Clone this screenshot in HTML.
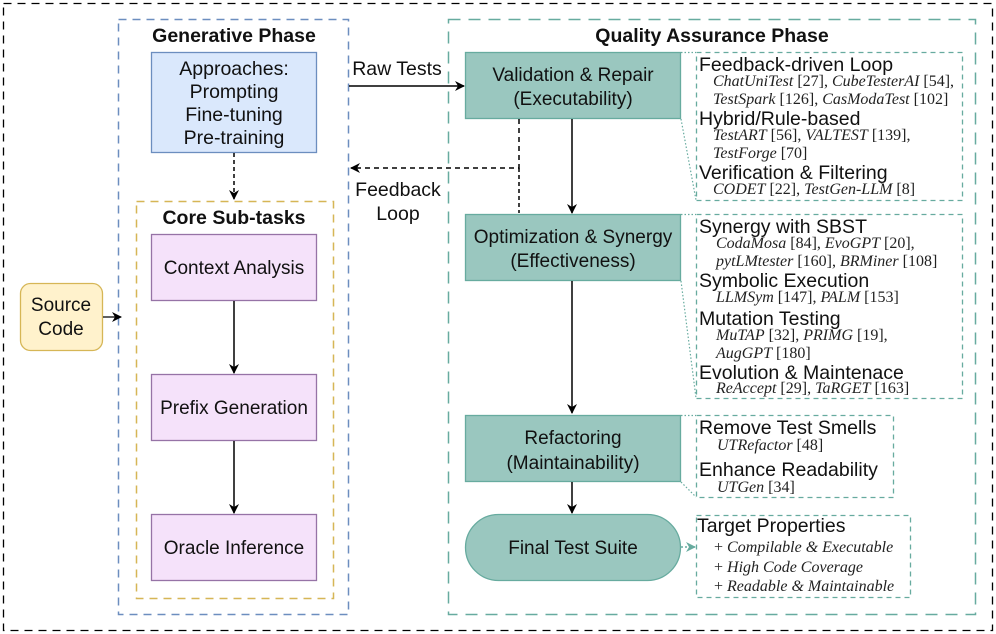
<!DOCTYPE html>
<html><head><meta charset="utf-8"><style>
html,body{margin:0;padding:0;background:#fff}
svg{display:block}
.s{font-family:"Liberation Sans",sans-serif;fill:#111}
.c{font-family:"Liberation Serif",serif;font-size:16px;fill:#222}
.i{font-style:italic}
</style></head><body>
<svg width="996" height="634" viewBox="0 0 996 634" xmlns="http://www.w3.org/2000/svg">
<defs>
<marker id="a" markerWidth="10" markerHeight="10" refX="9" refY="5" orient="auto" markerUnits="userSpaceOnUse"><path d="M0,0 L10,5 L0,10 L3,5 z" fill="#000"/></marker>
<marker id="t" markerWidth="10" markerHeight="10" refX="9" refY="5" orient="auto" markerUnits="userSpaceOnUse"><path d="M0,0 L10,5 L0,10 L3,5 z" fill="#67ab9f"/></marker>
</defs>
<rect x="3.5" y="3.5" width="989" height="627" fill="none" stroke="#000" stroke-width="1.3" stroke-dasharray="8,6"/>
<rect x="118.5" y="19.5" width="230" height="595" fill="none" stroke="#6c8ebf" stroke-width="1.5" stroke-dasharray="8,6"/>
<text x="234" y="42" text-anchor="middle" class="s" font-size="19.5" font-weight="bold">Generative Phase</text>
<rect x="151.5" y="52.5" width="165" height="100" fill="#dae8fc" stroke="#6c8ebf" stroke-width="1.3"/>
<text text-anchor="middle" class="s" font-size="19.5"><tspan x="234" y="75">Approaches:</tspan><tspan x="234" y="98">Prompting</tspan><tspan x="234" y="121">Fine-tuning</tspan><tspan x="234" y="144">Pre-training</tspan></text>
<line x1="234" y1="153" x2="234" y2="199" stroke="#000" stroke-width="1.5" stroke-dasharray="4,3" marker-end="url(#a)"/>
<rect x="136.5" y="201.5" width="197" height="397" fill="none" stroke="#d6b656" stroke-width="1.5" stroke-dasharray="8,6"/>
<text x="234" y="224" text-anchor="middle" class="s" font-size="19.5" font-weight="bold">Core Sub-tasks</text>
<rect x="151.5" y="234.5" width="165" height="66" fill="#f5e2fa" stroke="#9673a6" stroke-width="1.3"/>
<text x="234" y="274" text-anchor="middle" class="s" font-size="19">Context Analysis</text>
<rect x="151.5" y="374.5" width="165" height="66" fill="#f5e2fa" stroke="#9673a6" stroke-width="1.3"/>
<text x="234" y="414" text-anchor="middle" class="s" font-size="19">Prefix Generation</text>
<rect x="151.5" y="514.5" width="165" height="66" fill="#f5e2fa" stroke="#9673a6" stroke-width="1.3"/>
<text x="234" y="554" text-anchor="middle" class="s" font-size="19">Oracle Inference</text>
<line x1="234" y1="301" x2="234" y2="373" stroke="#000" stroke-width="1.5" marker-end="url(#a)"/>
<line x1="234" y1="441" x2="234" y2="513" stroke="#000" stroke-width="1.5" marker-end="url(#a)"/>
<rect x="20.5" y="283.5" width="82" height="67" rx="10" fill="#fff2cc" stroke="#d6b656" stroke-width="1.3"/>
<text text-anchor="middle" class="s" font-size="19"><tspan x="61" y="311">Source</tspan><tspan x="61" y="335">Code</tspan></text>
<line x1="103" y1="317" x2="121" y2="317" stroke="#000" stroke-width="1.3" marker-end="url(#a)"/>
<rect x="448.5" y="19.5" width="527" height="595" fill="none" stroke="#67ab9f" stroke-width="1.5" stroke-dasharray="12,8"/>
<text x="712" y="42" text-anchor="middle" class="s" font-size="19.5" font-weight="bold">Quality Assurance Phase</text>
<text x="397" y="75" text-anchor="middle" class="s" font-size="19.5">Raw Tests</text>
<line x1="349" y1="86" x2="464" y2="86" stroke="#000" stroke-width="1.5" marker-end="url(#a)"/>
<rect x="465.5" y="52.5" width="215" height="66" fill="#9ac7bf" stroke="#67ab9f" stroke-width="1.3"/>
<text text-anchor="middle" class="s" font-size="19"><tspan x="573" y="81">Validation &amp; Repair</tspan><tspan x="573" y="105">(Executability)</tspan></text>
<polyline points="519,119 519,168 351,168" fill="none" stroke="#000" stroke-width="1.5" stroke-dasharray="5,4" marker-end="url(#a)"/>
<line x1="519" y1="168" x2="519" y2="213" stroke="#000" stroke-width="1.5" stroke-dasharray="4,3"/>
<text text-anchor="middle" class="s" font-size="19.5"><tspan x="398" y="196">Feedback</tspan><tspan x="398" y="220">Loop</tspan></text>
<line x1="572" y1="119" x2="572" y2="213" stroke="#000" stroke-width="1.5" marker-end="url(#a)"/>
<rect x="465.5" y="214.5" width="215" height="66" fill="#9ac7bf" stroke="#67ab9f" stroke-width="1.3"/>
<text text-anchor="middle" class="s" font-size="19"><tspan x="573" y="243">Optimization &amp; Synergy</tspan><tspan x="573" y="267">(Effectiveness)</tspan></text>
<line x1="572" y1="281" x2="572" y2="413" stroke="#000" stroke-width="1.5" marker-end="url(#a)"/>
<rect x="465.5" y="415.5" width="215" height="66" fill="#9ac7bf" stroke="#67ab9f" stroke-width="1.3"/>
<text text-anchor="middle" class="s" font-size="19"><tspan x="573" y="444">Refactoring</tspan><tspan x="573" y="469">(Maintainability)</tspan></text>
<line x1="572" y1="482" x2="572" y2="513" stroke="#000" stroke-width="1.5" marker-end="url(#a)"/>
<rect x="465.5" y="514.5" width="215" height="66" rx="33" fill="#9ac7bf" stroke="#67ab9f" stroke-width="1.3"/>
<text x="573" y="554" text-anchor="middle" class="s" font-size="19">Final Test Suite</text>
<line x1="681" y1="547" x2="695" y2="547" stroke="#67ab9f" stroke-width="1.5" stroke-dasharray="2,2" marker-end="url(#t)"/>
<g stroke="#67ab9f" stroke-width="1.2" stroke-dasharray="1.5,2" fill="none">
<line x1="681" y1="52.5" x2="696" y2="52.5"/><line x1="681" y1="119" x2="696" y2="200"/>
<line x1="681" y1="214.5" x2="696" y2="214.5"/><line x1="681" y1="281" x2="696" y2="398"/>
<line x1="681" y1="415.5" x2="696" y2="415.5"/><line x1="681" y1="482" x2="696" y2="497"/>
</g>
<g fill="none" stroke="#67ab9f" stroke-width="1.3" stroke-dasharray="5,4">
<rect x="696.5" y="52.5" width="266" height="148"/>
<rect x="696.5" y="214.5" width="266" height="184"/>
<rect x="696.5" y="415.5" width="197" height="82"/>
<rect x="696.5" y="515.5" width="214" height="82"/>
</g>
<g class="s" font-size="19.5">
<text x="699" y="71">Feedback-driven Loop</text>
<text x="699" y="125">Hybrid/Rule-based</text>
<text x="699" y="179">Verification &amp; Filtering</text>
<text x="699" y="233">Synergy with SBST</text>
<text x="699" y="287">Symbolic Execution</text>
<text x="699" y="325">Mutation Testing</text>
<text x="699" y="379">Evolution &amp; Maintenace</text>
<text x="699" y="434">Remove Test Smells</text>
<text x="699" y="476">Enhance Readability</text>
<text x="697" y="532">Target Properties</text>
</g>
<g class="c">
<text x="713" y="86"><tspan class="i">ChatUniTest</tspan> [27], <tspan class="i">CubeTesterAI</tspan> [54],</text>
<text x="713" y="104"><tspan class="i">TestSpark</tspan> [126], <tspan class="i">CasModaTest</tspan> [102]</text>
<text x="713" y="140"><tspan class="i">TestART</tspan> [56], <tspan class="i">VALTEST</tspan> [139],</text>
<text x="713" y="158"><tspan class="i">TestForge</tspan> [70]</text>
<text x="713" y="194"><tspan class="i">CODET</tspan> [22], <tspan class="i">TestGen-LLM</tspan> [8]</text>
<text x="716" y="248"><tspan class="i">CodaMosa</tspan> [84], <tspan class="i">EvoGPT</tspan> [20],</text>
<text x="716" y="266"><tspan class="i">pytLMtester</tspan> [160], <tspan class="i">BRMiner</tspan> [108]</text>
<text x="716" y="302"><tspan class="i">LLMSym</tspan> [147], <tspan class="i">PALM</tspan> [153]</text>
<text x="716" y="340"><tspan class="i">MuTAP</tspan> [32], <tspan class="i">PRIMG</tspan> [19],</text>
<text x="716" y="358"><tspan class="i">AugGPT</tspan> [180]</text>
<text x="716" y="393"><tspan class="i">ReAccept</tspan> [29], <tspan class="i">TaRGET</tspan> [163]</text>
<text x="717" y="450"><tspan class="i">UTRefactor</tspan> [48]</text>
<text x="717" y="492"><tspan class="i">UTGen</tspan> [34]</text>
<text x="714" y="552">+ <tspan class="i">Compilable &amp; Executable</tspan></text>
<text x="714" y="572">+ <tspan class="i">High Code Coverage</tspan></text>
<text x="714" y="591">+ <tspan class="i">Readable &amp; Maintainable</tspan></text>
</g>
</svg>
</body></html>
